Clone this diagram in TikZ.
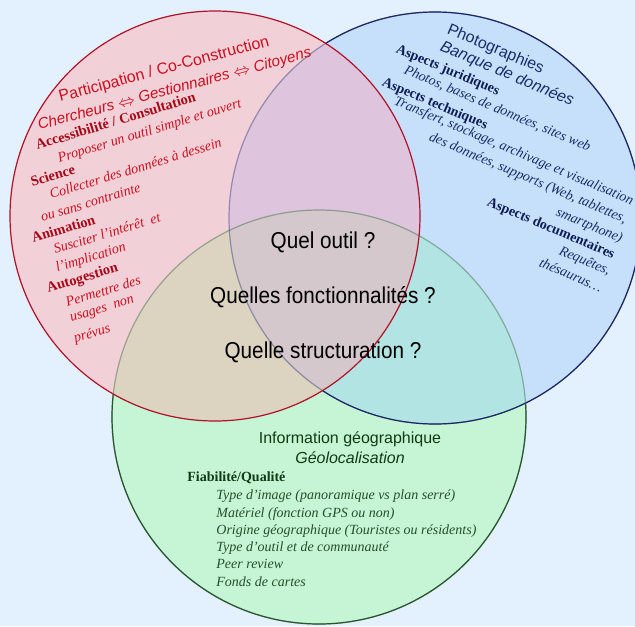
\documentclass[tikz,border=0pt]{standalone}
\usepackage{fontspec}
\setmainfont{Liberation Serif}
\setsansfont{Liberation Sans}
\usepackage{tikz}
\definecolor{bgsky}{RGB}{227, 240, 254}
\definecolor{pinkfill}{RGB}{242, 208, 216}
\definecolor{bluefill}{RGB}{198, 224, 252}
\definecolor{greenfill}{RGB}{198, 245, 214}
\definecolor{rbfill}{RGB}{222, 196, 220}
\definecolor{rgfill}{RGB}{221, 211, 193}
\definecolor{bgfill}{RGB}{178, 228, 228}
\definecolor{allfill}{RGB}{212, 200, 204}
\definecolor{redborder}{RGB}{176, 16, 40}
\definecolor{blueborder}{RGB}{30, 40, 100}
\definecolor{greenborder}{RGB}{40, 85, 45}
\definecolor{redtxt}{RGB}{204, 14, 30}
\definecolor{redbf}{RGB}{165, 8, 24}
\definecolor{navytxt}{RGB}{24, 44, 104}
\definecolor{navybf}{RGB}{14, 30, 84}
\definecolor{greentxt}{RGB}{38, 78, 42}
\definecolor{greenbf}{RGB}{18, 58, 20}

\begin{document}
\begin{tikzpicture}[
    x=0.5pt, y=-0.5pt,
    redline/.style={draw=redborder, line width=0.6pt},
    blueline/.style={draw=blueborder, line width=0.6pt},
    greenline/.style={draw=greenborder, line width=0.6pt},
    txt/.style={anchor=base west, inner sep=0pt},
    redhead/.style={txt, font=\sffamily\fontsize{8}{9}\selectfont, text=redtxt, rotate=15},
    redsub/.style={redhead, font=\sffamily\itshape\fontsize{7.6}{9}\selectfont},
    redbold/.style={txt, font=\rmfamily\bfseries\fontsize{7.2}{8}\selectfont, text=redbf, rotate=17},
    redtext/.style={txt, font=\rmfamily\itshape\fontsize{7}{8}\selectfont, text=redtxt, rotate=17},
    bluehead/.style={txt, font=\sffamily\fontsize{8}{9}\selectfont, text=navytxt, rotate=-23},
    bluesub/.style={bluehead, font=\sffamily\itshape\fontsize{8}{9}\selectfont},
    bluebold/.style={txt, font=\rmfamily\bfseries\fontsize{7}{8}\selectfont, text=navybf, rotate=-23},
    bluetext/.style={txt, font=\rmfamily\itshape\fontsize{7}{8}\selectfont, text=navytxt, rotate=-23},
    greenhead/.style={anchor=base, inner sep=0pt, font=\sffamily\fontsize{8}{9}\selectfont, text=greenbf},
    greensub/.style={greenhead, font=\sffamily\itshape\fontsize{8}{9}\selectfont},
    greenbold/.style={txt, font=\rmfamily\bfseries\fontsize{7}{8}\selectfont, text=greenbf},
    greentext/.style={txt, font=\rmfamily\itshape\fontsize{7}{8}\selectfont, text=greentxt},
    question/.style={anchor=base, inner sep=0pt, font=\sffamily\fontsize{11.5}{13}\selectfont, xscale=0.9}
]

    % Background
    \useasboundingbox (0,0) rectangle (635,626);
    \fill[bgsky] (0,0) rectangle (635,626);

    % Circle centres
    \coordinate (redc) at (215,216);
    \coordinate (bluec) at (435,218);
    \coordinate (greenc) at (319,417);

    % Fills of the three sets and their overlaps
    \fill[pinkfill] (redc) circle (102.5pt);
    \fill[bluefill] (bluec) circle (103pt);
    \fill[greenfill] (greenc) circle (103.5pt);
    \begin{scope}
        \clip (redc) circle (102.5pt);
        \fill[rbfill] (bluec) circle (103pt);
        \fill[rgfill] (greenc) circle (103.5pt);
    \end{scope}
    \begin{scope}
        \clip (bluec) circle (103pt);
        \fill[bgfill] (greenc) circle (103.5pt);
    \end{scope}
    \begin{scope}
        \clip (redc) circle (102.5pt);
        \clip (bluec) circle (103pt);
        \fill[allfill] (greenc) circle (103.5pt);
    \end{scope}

    % Borders (muted where covered)
    \draw[greenline, draw opacity=0.4] (greenc) circle (103.5pt);
    \draw[blueline, draw opacity=0.4] (bluec) circle (103pt);
    \begin{scope}[even odd rule]
        \clip (0,0) rectangle (635,626) (redc) circle (102.5pt);
        \draw[blueline] (bluec) circle (103pt);
        \begin{scope}[even odd rule]
            \clip (0,0) rectangle (635,626) (bluec) circle (103pt);
            \draw[greenline] (greenc) circle (103.5pt);
        \end{scope}
    \end{scope}
    \draw[redline] (redc) circle (102.5pt);

    % Participation circle
    \node (parti) [redhead] at (60,102) {Participation / Co-Construction};
    \node (acteurs) [redsub] at (39,130) {Chercheurs $\Leftrightarrow$ Gestionnaires $\Leftrightarrow$ Citoyens};
    \node (access) [redbold] at (37,150) {Accessibilité / Consultation};
    \node (access1) [redtext] at (59,163) {Proposer un outil simple et ouvert};
    \node (science) [redbold] at (32,187) {Science};
    \node (science1) [redtext] at (51,199) {Collecter des données à dessein};
    \node (science2) [redtext] at (42,222) {ou sans contrainte};
    \node (anim) [redbold] at (33,243) {Animation};
    \node (anim1) [redtext] at (55,254) {Susciter l’intérêt\ \ et};
    \node (anim2) [redtext] at (57,272) {l’implication};
    \node (autog) [redbold] at (48,293) {Autogestion};
    \node (autog1) [redtext] at (67,307) {Permettre des};
    \node (autog2) [redtext] at (71,322) {usages\ \ non};
    \node (autog3) [redtext] at (75,343) {prévus};

    % Photographies circle
    \node (photo) [bluehead] at (446,33) {Photographies};
    \node (banque) [bluesub] at (439,50) {Banque de données};
    \node (jurid) [bluebold] at (395,52) {Aspects juridiques};
    \node (jurid1) [bluetext] at (403,73) {Photos, bases de données, sites web};
    \node (techn) [bluebold] at (381,85) {Aspects techniques};
    \node (techn1) [bluetext] at (393,104) {Transfert, stockage, archivage et visualisation};
    \node (techn2) [bluetext] at (428,140) {des données, supports (Web, tablettes,};
    \node (techn3) [bluetext] at (555,215) {smartphone)};
    \node (docu) [bluebold] at (486,205) {Aspects documentaires};
    \node (docu1) [bluetext] at (558,254) {Requêtes,};
    \node (docu2) [bluetext] at (538,266) {thésaurus…};

    % Information geographique circle
    \node (geo) [greenhead] at (350,443) {Information géographique};
    \node (geoloc) [greensub] at (350,463) {Géolocalisation};
    \node (fiab) [greenbold] at (187,481) {Fiabilité/Qualité};
    \node (fiab1) [greentext] at (216,499) {Type d’image (panoramique vs plan serré)};
    \node (fiab2) [greentext] at (216,517) {Matériel (fonction GPS ou non)};
    \node (fiab3) [greentext] at (216,534) {Origine géographique (Touristes ou résidents)};
    \node (fiab4) [greentext] at (216,551) {Type d’outil et de communauté};
    \node (fiab5) [greentext] at (216,568) {Peer review};
    \node (fiab6) [greentext] at (216,586) {Fonds de cartes};

    % Questions in the middle
    \node (q1) [question] at (323,248) {Quel outil ?};
    \node (q2) [question] at (323,303) {Quelles fonctionnalités ?};
    \node (q3) [question] at (323,358) {Quelle structuration ?};

\end{tikzpicture}
\end{document}
